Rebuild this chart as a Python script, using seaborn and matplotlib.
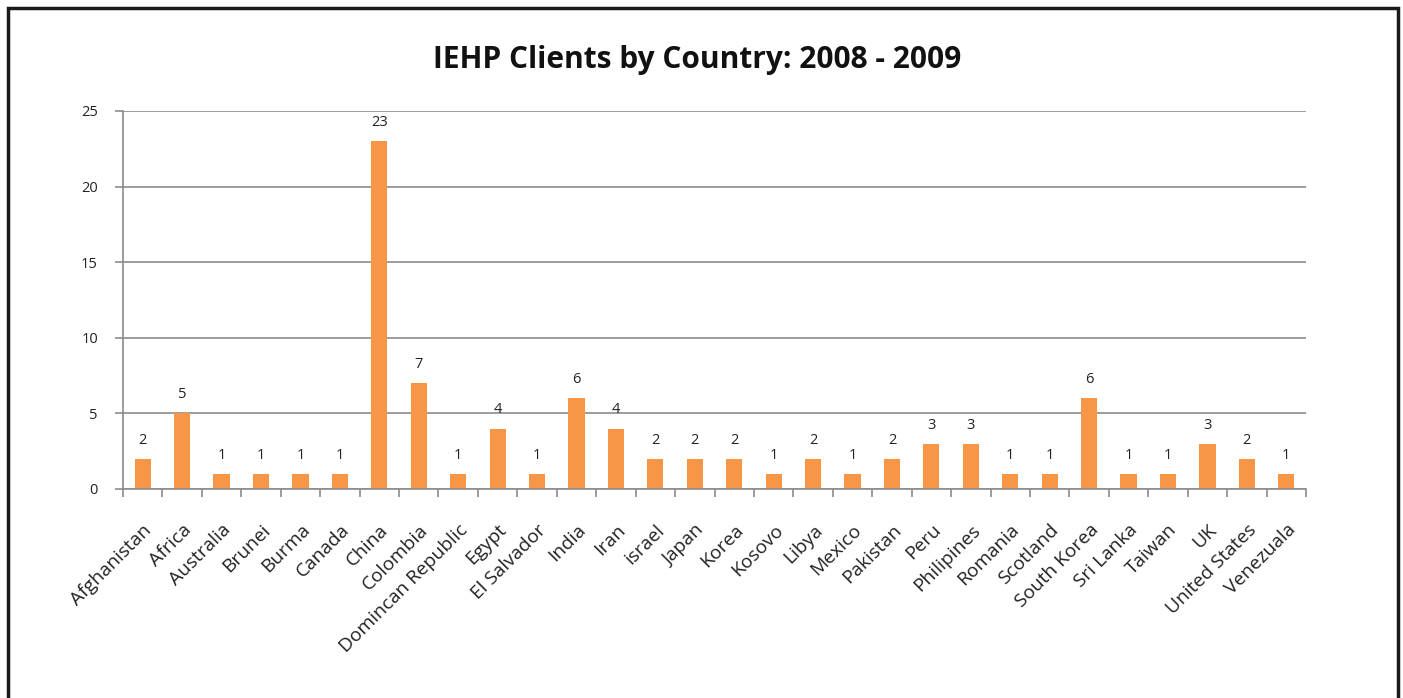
import matplotlib
matplotlib.use("Agg")
import matplotlib.pyplot as plt
import seaborn as sns
import pandas as pd
from matplotlib.patches import Rectangle

countries = ["Afghanistan", "Africa", "Australia", "Brunei", "Burma", "Canada", "China",
             "Colombia", "Domincan Republic", "Egypt", "El Salvador", "India", "Iran", "israel",
             "Japan", "Korea", "Kosovo", "Libya", "Mexico", "Pakistan", "Peru", "Philipines",
             "Romania", "Scotland", "South Korea", "Sri Lanka", "Taiwan", "UK", "United States",
             "Venezuala"]
clients = [2, 5, 1, 1, 1, 1, 23, 7, 1, 4, 1, 6, 4, 2, 2, 2, 1, 2, 1, 2, 3, 3, 1, 1, 6, 1, 1, 3, 2, 1]
yticks = [0, 5, 10, 15, 20, 25]
title = "IEHP Clients by Country: 2008 - 2009"

sns.set_theme(style="white")
plt.rcParams['font.family'] = ['Open Sans', 'DejaVu Sans']

df = pd.DataFrame({"country": countries, "clients": clients})

fig = plt.figure(figsize=(14.03, 6.98), dpi=100)
ax = fig.add_axes([123/1403, 1-489/698, (1306-123)/1403, (489-111)/698])

sns.barplot(data=df, x="country", y="clients", color="#F79646", saturation=1,
            width=0.41, ax=ax, edgecolor="none")

ax.set_ylim(0, 25)
ax.set_xlim(-0.5, len(countries)-0.5)
ax.set_yticks(yticks)
ax.set_yticklabels([str(t) for t in yticks], fontsize=10.5, color="#222222")
ax.yaxis.grid(True, color="#8c8c8c", linewidth=1.2)
ax.set_axisbelow(True)
ax.set_xlabel("")
ax.set_ylabel("")
for s in ["top", "right"]:
    ax.spines[s].set_visible(False)
for s in ["left", "bottom"]:
    ax.spines[s].set_color("#8c8c8c")
    ax.spines[s].set_linewidth(1.2)

ax.set_xticks(range(len(countries)))
ax.set_xticklabels(countries, rotation=45, ha="right", rotation_mode="anchor",
                   fontsize=13.8, color="#222222")
ax.tick_params(axis="x", length=0, pad=23)
ax.tick_params(axis="y", length=6, color="#8c8c8c", width=1.2, pad=12, left=True)
# category boundary ticks
ax.set_xticks([i - 0.5 for i in range(len(countries)+1)], minor=True)
ax.tick_params(axis="x", which="minor", length=6, color="#8c8c8c", width=1.2, bottom=True)

for c in ax.containers:
    ax.bar_label(c, labels=[str(v) for v in clients], padding=8, fontsize=10.5, color="#222222")

fig.text(697/1403, 1-60/698, title, ha="center", va="center", fontsize=21.5, fontweight="bold",
         color="#111111")

fig.patches.append(Rectangle((8/1403, -0.05), (1398-8)/1403, 1-8/698+0.05,
                             transform=fig.transFigure, fill=False, edgecolor="#1a1a1a",
                             linewidth=2.5))

fig.savefig("out.png", dpi=100, facecolor="white")
